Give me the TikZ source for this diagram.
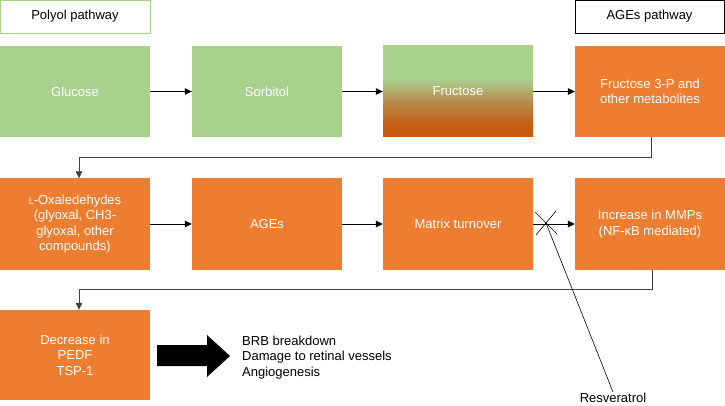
\documentclass[tikz,border=0pt]{standalone}
\usepackage{fontspec}
\setmainfont{Liberation Sans}
\usetikzlibrary{arrows.meta,calc}
\definecolor{grn}{HTML}{A9D18E}
\definecolor{org}{HTML}{ED7D31}
\definecolor{orgdark}{HTML}{C55A11}
\definecolor{orgmid}{HTML}{B98A4A}
\definecolor{conn}{HTML}{404040}
\pgfdeclareverticalshading{fruc}{100bp}{color(0bp)=(orgdark); color(31bp)=(orgdark); color(44bp)=(orgmid); color(57bp)=(grn); color(100bp)=(grn)}
\tikzset{
  box/.style={minimum width=150pt, minimum height=91pt, inner sep=0pt, draw=none,
    text=white, align=center, font=\fontsize{13}{15.5}\selectfont},
  gbox/.style={box, fill=grn},
  obox/.style={box, fill=org},
  hdr/.style={minimum width=150pt, minimum height=33pt, inner sep=0pt, line width=0.6pt,
    font=\fontsize{13}{15.5}\selectfont, fill=white},
  arr/.style={-{Triangle[length=7pt,width=6.5pt]}, line width=0.7pt, black},
  cn/.style={-{Triangle[length=7pt,width=6.5pt]}, line width=0.7pt, conn},
}
\begin{document}
\begin{tikzpicture}[x=1pt,y=-1pt]
\useasboundingbox (0,0) rectangle (725,406);
\node[hdr, draw=grn] (polyol) at (75,16.5) {Polyol pathway};
\node[hdr, draw=black, minimum width=149pt] (agesp) at (649.5,16.5) {AGEs pathway};

\node[gbox] (glucose) at (75,91.5) {Glucose};
\node[gbox] (sorbitol) at (267,91.5) {Sorbitol};
\node[box, shading=fruc] (fructose) at (458,91.5) {Fructose};
\node[obox] (f3p) at (650,91.5) {Fructose 3-P and\\other metabolites};

\node[obox] (oxal) at (75,224) {{\fontsize{9}{9}\selectfont L}-Oxaledehydes\\(glyoxal, CH3-\\glyoxal, other\\compounds)};
\node[obox] (ages) at (267,224) {AGEs};
\node[obox] (matrix) at (458,224) {Matrix turnover};
\node[obox] (mmps) at (650,224) {Increase in MMPs\\(NF-κB mediated)};

\node[obox, minimum height=90pt] (pedf) at (75,355) {Decrease in\\PEDF\\TSP-1};

\draw[arr] (glucose) -- (sorbitol);
\draw[arr] (sorbitol) -- (fructose);
\draw[arr] (fructose) -- (f3p);
\draw[arr] (oxal) -- (ages);
\draw[arr] (ages) -- (matrix);
\draw[arr] (matrix) -- (mmps);

\draw[cn] ($(f3p.south)+(1,0)$) |- (79,157) -- ($(oxal.north)+(4,0)$);
\draw[cn] ($(mmps.south)+(2,0)$) |- (79,289) -- ($(pedf.north)+(4,0)$);

% big arrow
\fill[black] (157,345) -- (207,345) -- (207,335) -- (230,356) -- (207,377) -- (207,366) -- (157,366) -- cycle;
\node[anchor=west, align=left, inner sep=0pt, font=\fontsize{13}{15.5}\selectfont] (effects) at (242,357.5)
  {BRB breakdown\\Damage to retinal vessels\\Angiogenesis};

% resveratrol
\coordinate (x) at (546,223);
\node[inner sep=1pt, font=\fontsize{13}{15.5}\selectfont] (resv) at (613,398) {Resveratrol};
\draw[line width=0.6pt] (resv.north) -- (x);
\draw[line width=0.6pt] (535,212) -- (557,234);
\draw[line width=0.6pt] (556,211) -- (536,235);
\end{tikzpicture}
\end{document}
